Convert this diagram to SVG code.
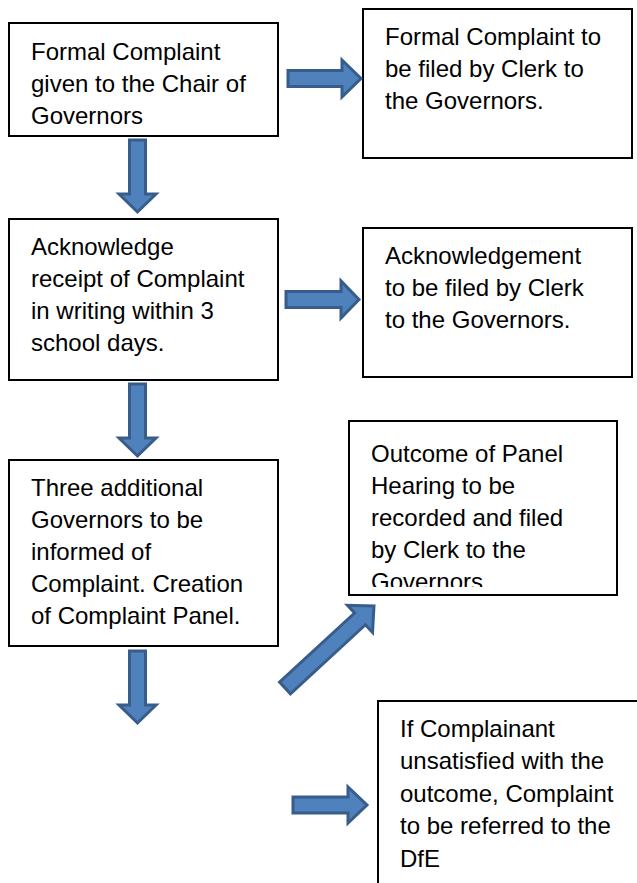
<svg xmlns="http://www.w3.org/2000/svg" width="637" height="883" viewBox="0 0 637 883">
<style>
.box{fill:#fff;stroke:#000;stroke-width:2}
.t{font-family:"Liberation Sans",Arial,sans-serif;font-size:24px;fill:#000}
.arr{fill:#4f81bd;stroke:#385d8a;stroke-width:3;stroke-linejoin:miter}
</style>
<defs>
<clipPath id="c6"><rect x="349" y="421" width="268" height="166"/></clipPath>
</defs>
<rect width="637" height="883" fill="#fff"/>
<g id="n1">
<rect class="box" x="9" y="23" width="269" height="113"/>
<text class="t" x="31" y="60">Formal Complaint</text>
<text class="t" x="31" y="92">given to the Chair of</text>
<text class="t" x="31" y="124">Governors</text>
</g>
<g id="n2">
<rect class="box" x="363" y="9" width="269" height="149"/>
<text class="t" x="385" y="45">Formal Complaint to</text>
<text class="t" x="385" y="77">be filed by Clerk to</text>
<text class="t" x="385" y="109">the Governors.</text>
</g>
<g id="n3">
<rect class="box" x="9" y="219" width="269" height="161"/>
<text class="t" x="31" y="255">Acknowledge</text>
<text class="t" x="31" y="287">receipt of Complaint</text>
<text class="t" x="31" y="319">in writing within 3</text>
<text class="t" x="31" y="351">school days.</text>
</g>
<g id="n4">
<rect class="box" x="363" y="228" width="269" height="149"/>
<text class="t" x="385" y="264">Acknowledgement</text>
<text class="t" x="385" y="296">to be filed by Clerk</text>
<text class="t" x="385" y="328">to the Governors.</text>
</g>
<g id="n5">
<rect class="box" x="9" y="460" width="269" height="186"/>
<text class="t" x="31" y="496">Three additional</text>
<text class="t" x="31" y="528">Governors to be</text>
<text class="t" x="31" y="560">informed of</text>
<text class="t" x="31" y="592">Complaint. Creation</text>
<text class="t" x="31" y="624">of Complaint Panel.</text>
</g>
<g id="n6">
<rect class="box" x="349" y="421" width="268" height="174"/>
<g clip-path="url(#c6)">
<text class="t" x="371" y="462">Outcome of Panel</text>
<text class="t" x="371" y="494">Hearing to be</text>
<text class="t" x="371" y="526">recorded and filed</text>
<text class="t" x="371" y="558">by Clerk to the</text>
<text class="t" x="371" y="590">Governors.</text>
</g>
</g>
<g id="n7">
<rect class="box" x="378" y="701" width="270" height="200"/>
<text class="t" x="400" y="737">If Complainant</text>
<text class="t" x="400" y="769">unsatisfied with the</text>
<text class="t" x="400" y="802">outcome, Complaint</text>
<text class="t" x="400" y="834">to be referred to the</text>
<text class="t" x="400" y="867">DfE</text>
</g>
<g id="connectors">
<path class="arr" d="M288,70.5 H342 V60 L361,78.5 L342,97 V86.5 H288 Z"/>
<path class="arr" d="M129.5,140 V194 H119 L137.5,212 L156,194 H145.5 V140 Z"/>
<path class="arr" d="M286,291.5 H341 V281 L359,299.5 L341,318 V307.5 H286 Z"/>
<path class="arr" d="M129.5,384 V438 H119 L137.5,456 L156,438 H145.5 V384 Z"/>
<path class="arr" d="M129.5,651 V705 H119 L137.5,723 L156,705 H145.5 V651 Z"/>
<path class="arr" d="M293,797 H348 V787 L367,805 L348,823 V813 H293 Z"/>
<path class="arr" transform="translate(285,688) rotate(-42.66)" d="M0,-8 H102 V-18.5 L121,0 L102,18.5 V8 H0 Z"/>
</g>
</svg>
